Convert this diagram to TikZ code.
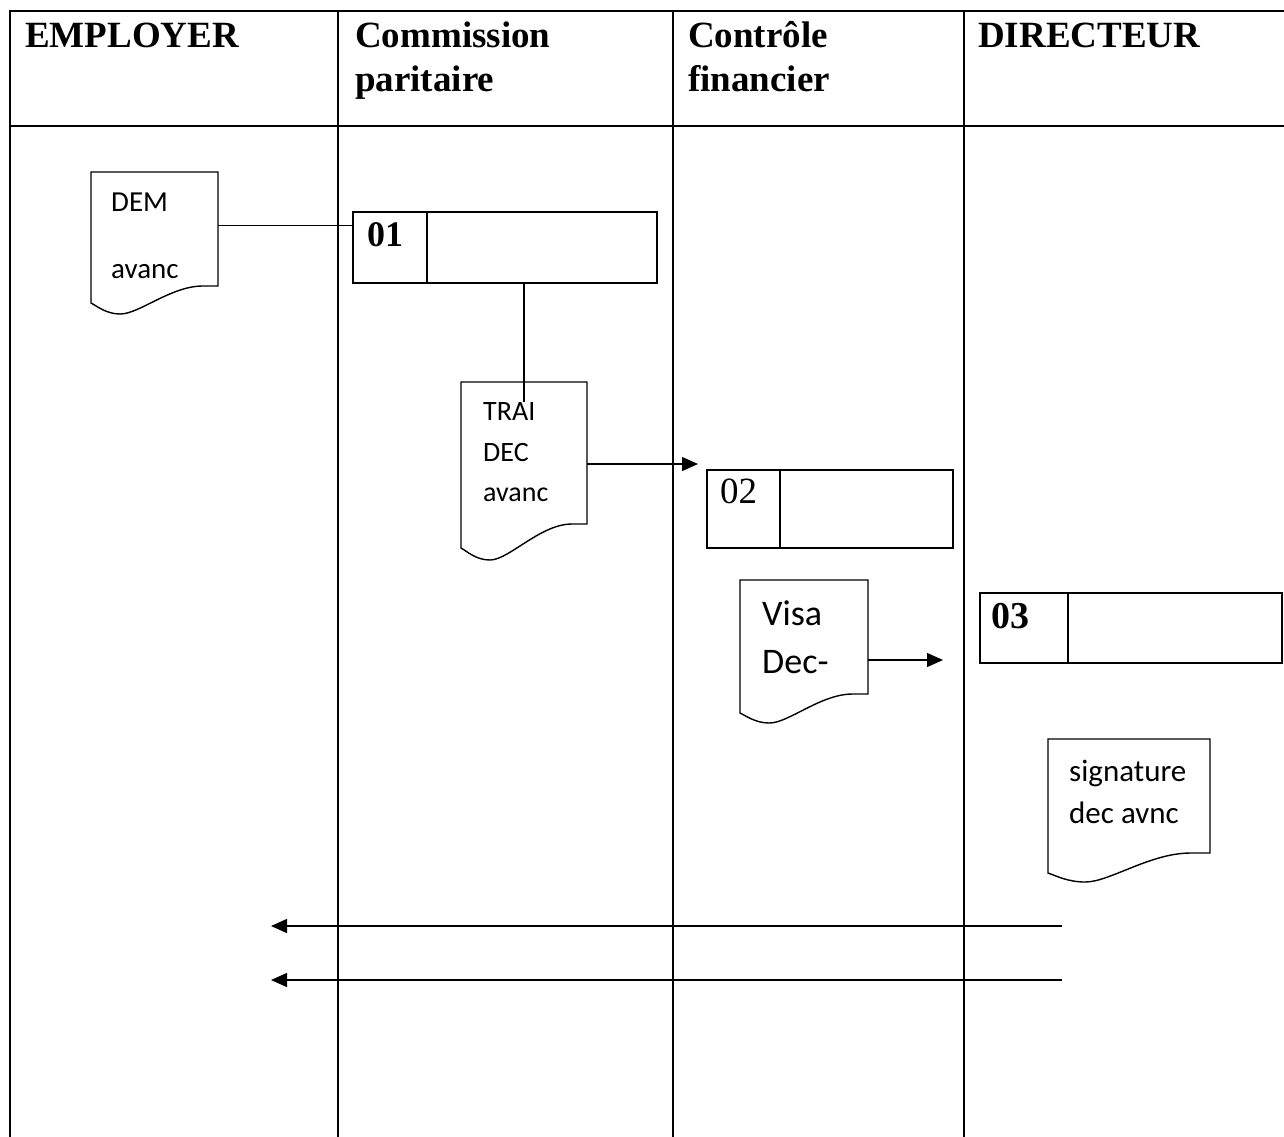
\documentclass[tikz,border=0pt]{standalone}
\usepackage{fontspec}
\setmainfont{Liberation Serif}
\newfontfamily\carfont{Carlito}
\usetikzlibrary{arrows.meta}

% Document symbol: a named rectangle (left, top, right, straight bottom)
% plus an outline whose bottom edge is a wave.
% #1 name, #2 L, #3 T, #4 R, #5 B, #6 drop at left, #7 drop at the lowest point
\newcommand\docnode[7]{%
  \node[docrect, minimum width={(#4-#2)*1pt}, minimum height={(#5-#3)*1pt}]
    (#1) at ({(#2+#4)/2},{(#3+#5)/2}) {};
  \draw[docline] (#2,#3) -- (#4,#3) -- (#4,#5) -- ({#4-0.12*(#4-#2)},#5)
    .. controls ({#4-0.37*(#4-#2)},#5) and ({#2+0.38*(#4-#2)},{#5+#7}) ..
    ({#2+0.23*(#4-#2)},{#5+#7})
    .. controls ({#2+0.12*(#4-#2)},{#5+#7}) and ({#2+0.05*(#4-#2)},{#5+#6+0.3*(#7-#6)}) ..
    (#2,{#5+#6}) -- cycle;}

\begin{document}
\begin{tikzpicture}[x=1pt,y=-1pt,
  lane/.style={line width=2.3pt},
  docrect/.style={rectangle, draw=none, inner sep=0pt},
  docline/.style={line width=1.4pt, line join=miter},
  cell/.style={rectangle, draw, line width=1.6pt, inner sep=0pt, anchor=north west},
  hdr/.style={anchor=base west, inner sep=0pt, font=\bfseries\fontsize{37}{43}\selectfont},
  numb/.style={anchor=base west, inner sep=0pt, font=\bfseries\fontsize{36}{42}\selectfont},
  numr/.style={anchor=base west, inner sep=0pt, font=\fontsize{37}{44}\selectfont},
  doctxt/.style={anchor=base west, inner sep=0pt},
  conn/.style={line width=1.3pt},
  arr/.style={conn, -{Triangle[length=16pt,width=14pt]}}]

\useasboundingbox (0,0) rectangle (1284,1136);
\clip (0,0) rectangle (1284,1136);
\fill[white] (0,0) rectangle (1284,1136);

% swimlane table
\draw[lane] (10,1150) -- (10,11) -- (1300,11);
\draw[lane] (10,126) -- (1300,126);
\draw[lane] (338,11) -- (338,1150);
\draw[lane] (673,11) -- (673,1150);
\draw[lane] (964,11) -- (964,1150);

% lane headers
\node[hdr] (hemp) at (25,47) {EMPLOYER};
\node[hdr] (hcom) at (355,47) {Commission};
\node[hdr] (hpar) at (355,91) {paritaire};
\node[hdr] (hcon) at (688,47) {Contrôle};
\node[hdr] (hfin) at (688,91) {financier};
\node[hdr] (hdir) at (978,47) {DIRECTEUR};

% documents
\docnode{dem}{91}{172}{218}{286}{17}{28}
\node[doctxt, font=\carfont\fontsize{29}{35}\selectfont] (tdem1) at (111,211) {DEM};
\node[doctxt, font=\carfont\fontsize{29}{35}\selectfont] (tdem2) at (111,278) {avanc};

\docnode{trai}{461}{382}{587}{524}{24}{36}
\node[doctxt, font=\carfont\fontsize{28}{34}\selectfont] (ttr1) at (483,420) {TRAI};
\node[doctxt, font=\carfont\fontsize{28}{34}\selectfont] (ttr2) at (483,461) {DEC};
\node[doctxt, font=\carfont\fontsize{28}{34}\selectfont] (ttr3) at (483,501) {avanc};

\docnode{visa}{740}{580}{868}{694}{19}{29}
\node[doctxt, font=\carfont\fontsize{36}{43}\selectfont] (tvi1) at (762,625) {Visa};
\node[doctxt, font=\carfont\fontsize{36}{43}\selectfont] (tvi2) at (762,673) {Dec-};

\docnode{sig}{1048}{739}{1210}{853}{20}{29}
\node[doctxt, font=\carfont\fontsize{31}{37}\selectfont] (tsi1) at (1069,781) {signature};
\node[doctxt, font=\carfont\fontsize{31}{37}\selectfont] (tsi2) at (1069,823) {dec avnc};

% process boxes
\node[cell, minimum width=74pt, minimum height=71pt] (n01) at (352,211) {};
\node[cell, minimum width=230pt, minimum height=71pt] (c01) at (426,211) {};
\node[numb] (l01) at (367,246) {01};

\node[cell, minimum width=73pt, minimum height=78pt] (n02) at (706,469) {};
\node[cell, minimum width=173pt, minimum height=78pt] (c02) at (779,469) {};
\node[numr] (l02) at (720,503) {02};

\node[cell, minimum width=88pt, minimum height=70pt] (n03) at (979,592) {};
\node[cell, minimum width=214pt, minimum height=70pt] (c03) at (1067,592) {};
\node[numb, font=\bfseries\fontsize{38}{44}\selectfont] (l03) at (991,628) {03};

% connectors
\draw[conn] ([yshift=-54pt]dem.north east) -- ([yshift=-54pt]dem.north east -| n01.west);
\draw[conn] (trai.north |- c01.south) -- ([yshift=-20pt]trai.north);

\coordinate (a2) at (698,464);
\draw[arr] (trai.east |- a2) -- (a2);

\coordinate (a3) at (943,660);
\draw[arr] (visa.east |- a3) -- (a3);

\coordinate (r1s) at (1062,926);
\coordinate (r1e) at (271,926);
\coordinate (r2s) at (1062,980);
\coordinate (r2e) at (271,980);
\draw[arr] (r1s) -- (r1e);
\draw[arr] (r2s) -- (r2e);

\end{tikzpicture}
\end{document}
